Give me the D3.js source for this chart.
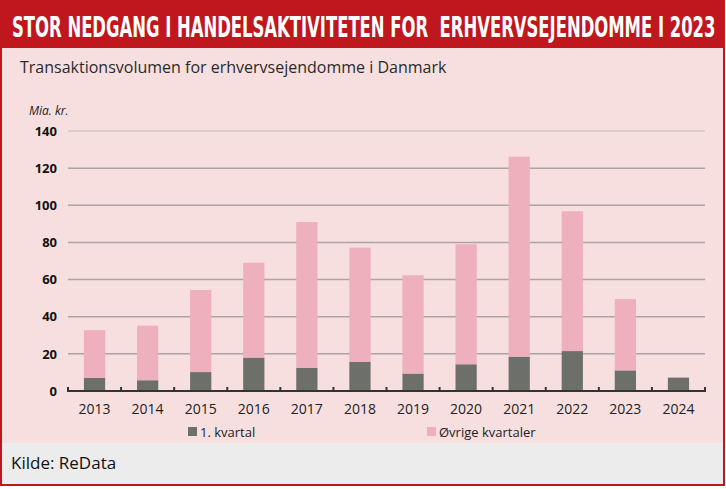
<!DOCTYPE html>
<html>
<head>
<meta charset="utf-8">
<script src="https://cdn.jsdelivr.net/npm/d3@7"></script>
<style>
  html, body { margin: 0; padding: 0; background: #fff; }
  svg { display: block; }
</style>
</head>
<body>
<svg id="chart" width="726" height="489"></svg>
<script>
const years = ["2013","2014","2015","2016","2017","2018","2019","2020","2021","2022","2023","2024"];
const q1 = [7.0, 5.8, 10.2, 18.0, 12.4, 15.8, 9.4, 14.4, 18.5, 21.5, 11.1, 7.2];
const others = [25.8, 29.4, 44.2, 51.1, 78.6, 61.4, 52.9, 64.6, 107.7, 75.3, 38.4, 0];
const yTicks = [0, 20, 40, 60, 80, 100, 120, 140];
const seriesNames = ["1. kvartal", "Øvrige kvartaler"];

const W = 726, H = 489;
const svg = d3.select("#chart");
const red = "#c0161d";

// Background panels
svg.append("rect").attr("x", 0).attr("y", 0).attr("width", W).attr("height", H).attr("fill", "#fff");
svg.append("rect").attr("x", 1).attr("y", 47).attr("width", W - 2).attr("height", 396).attr("fill", "#f7dfe0");
svg.append("rect").attr("x", 1).attr("y", 443).attr("width", W - 2).attr("height", 42).attr("fill", "#ececec");
svg.append("rect").attr("x", 1).attr("y", 1).attr("width", W - 2).attr("height", 47).attr("fill", red);
svg.append("rect").attr("x", 1).attr("y", 1).attr("width", W - 3).attr("height", H - 5)
  .attr("fill", "none").attr("stroke", red).attr("stroke-width", 2);

// Title (scaled horizontally to fit the header width)
const titleG = svg.append("g");
const title = titleG.append("text").attr("x", 0).attr("y", 0)
  .attr("font-family", "'Liberation Sans Narrow', 'DejaVu Sans Condensed', sans-serif")
  .attr("font-weight", "bold").attr("font-size", 28).attr("fill", "#fff")
  .style("white-space", "pre")
  .text("STOR NEDGANG I HANDELSAKTIVITETEN FOR  ERHVERVSEJENDOMME I 2023");
const tw = title.node().getComputedTextLength();
const sx = 704 / tw;
titleG.attr("transform", `translate(12,37) scale(${sx},1)`);

// Subtitle
svg.append("text").attr("x", 20).attr("y", 73)
  .attr("font-family", "'Open Sans', sans-serif").attr("font-size", 16).attr("fill", "#2a2a2a")
  .text("Transaktionsvolumen for erhvervsejendomme i Danmark");

svg.append("text").attr("x", 29).attr("y", 115)
  .attr("font-family", "'Open Sans', sans-serif").attr("font-style", "italic")
  .attr("font-size", 12).attr("fill", "#222").text("Mia. kr.");

const x0 = 68, x1 = 705;
const x = d3.scaleBand().domain(years).range([x0, x1]).paddingInner(0.6).paddingOuter(0.3);
const y = d3.scaleLinear().domain([0, 140]).range([391, 131]);

// Gridlines
const grid = svg.append("g");
grid.selectAll("line").data(yTicks.filter(d => d > 0)).join("line")
  .attr("x1", x0).attr("x2", x1)
  .attr("y1", d => y(d)).attr("y2", d => y(d))
  .attr("stroke", d => d === 140 ? "#d6c4c6" : "#ada3a4").attr("stroke-width", 1.5);

// Y axis labels
const yAxis = d3.axisLeft(y).tickValues(yTicks).tickSize(0).tickPadding(0);
const ya = svg.append("g").attr("transform", "translate(57,0)").call(yAxis);
ya.select(".domain").remove();
ya.selectAll("text").attr("font-family", "'Open Sans', sans-serif").attr("font-weight", "bold")
  .attr("font-size", 13).attr("fill", "#111");

// Stacked bars
const stackData = years.map((yr, i) => ({ year: yr, q1: q1[i], others: others[i] }));
const stack = d3.stack().keys(["q1", "others"])(stackData);
const colors = ["#6d6f6b", "#edb0bc"];
svg.append("g").selectAll("g").data(stack).join("g")
  .attr("fill", (d, i) => colors[i])
  .selectAll("rect").data(d => d.filter(p => p[1] - p[0] > 0)).join("rect")
  .attr("x", d => x(d.data.year))
  .attr("width", x.bandwidth())
  .attr("y", d => y(d[1]))
  .attr("height", d => y(d[0]) - y(d[1]));

// X axis
const xAxis = d3.axisBottom(x).tickSize(0).tickPadding(13);
const xa = svg.append("g").attr("transform", "translate(0,391)").call(xAxis);
xa.select(".domain").attr("stroke", "#333").attr("stroke-width", 2).attr("d", `M${x0},0H${x1}`);
xa.selectAll("text").attr("font-family", "'Open Sans', sans-serif").attr("font-size", 14).attr("fill", "#222");
// tick marks at band boundaries
const step = (x1 - x0) / years.length;
const bounds = d3.range(years.length + 1).map(i => x0 + i * step);
svg.append("g").selectAll("line").data(bounds).join("line")
  .attr("x1", d => d).attr("x2", d => d).attr("y1", 387).attr("y2", 392)
  .attr("stroke", "#333").attr("stroke-width", 2);

// Legend
const legendX = [188, 427];
const lg = svg.append("g");
seriesNames.forEach((name, i) => {
  lg.append("rect").attr("x", legendX[i]).attr("y", 427).attr("width", 9).attr("height", 9).attr("fill", colors[i]);
  lg.append("text").attr("x", legendX[i] + 12).attr("y", 437)
    .attr("font-family", "'Open Sans', sans-serif").attr("font-size", 13).attr("fill", "#222").text(name);
});

// Source
svg.append("text").attr("x", 11).attr("y", 469)
  .attr("font-family", "'Open Sans', sans-serif").attr("font-size", 17).attr("fill", "#111")
  .text("Kilde: ReData");
</script>
</body>
</html>
